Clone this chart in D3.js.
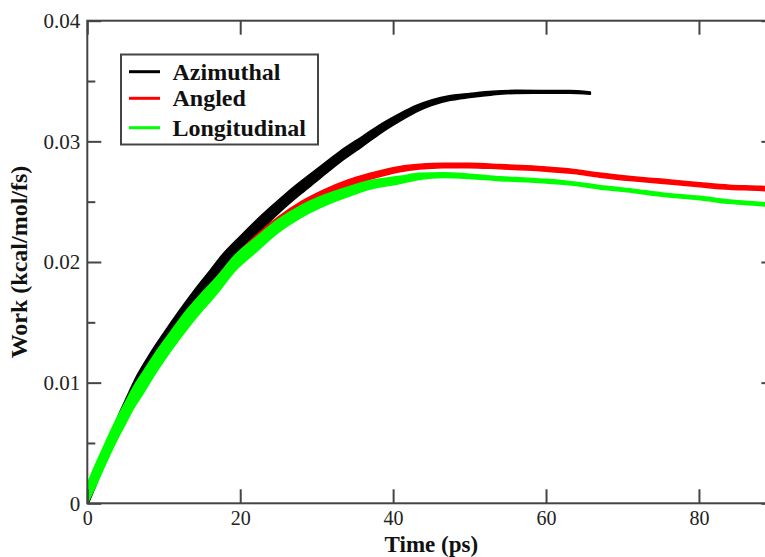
<!DOCTYPE html>
<html><head><meta charset="utf-8">
<script src="https://cdn.jsdelivr.net/npm/d3@7"></script>
<style>
body{margin:0;background:#fff;}
svg{display:block;}
</style></head>
<body>
<svg id="chart" width="765" height="557"></svg>
<script>
// ---- data ----
const seriesNames = ["Azimuthal", "Angled", "Longitudinal"];
const seriesColors = ["#000000", "#ff0000", "#00ff00"];

const azTime   = [0,1,2,3,4,5,6.5,8,10,12,14,16,17.6,20,22,24,26.1,28,30,33,36,38.5,40.9,43,45,47.5,50,53,56,60,63,65.8];
const azWork   = [0.0002,0.0018,0.0035,0.0051,0.0066,0.0080,0.0100,0.0116,0.0135,0.0153,0.0170,0.0186,0.0199,0.0215,0.0228,0.0240,0.0252,0.0262,0.0272,0.0287,0.0300,0.0311,0.0320,0.0327,0.0332,0.0336,0.0338,0.0340,0.0341,0.0341,0.0341,0.0340];
const azSpread = [0.0004,0.0005,0.0006,0.0006,0.0006,0.0006,0.0006,0.0006,0.00062,0.00064,0.00066,0.00066,0.00066,0.00064,0.0006,0.00057,0.00054,0.00052,0.0005,0.00046,0.00042,0.00037,0.00032,0.00027,0.00023,0.0002,0.00017,0.00015,0.00013,0.00012,0.00011,0.0001];

const anTime   = [0,1,2,3,4,5,6,7.3,9,11,13,15,17,19.3,22,25,28,31,34,37,40.9,43.5,46.5,50,54,57.5,60,63.6,67,71.4,75,80.1,84,88.2,90];
const anWork   = [0.0007,0.0021,0.0035,0.0050,0.0063,0.0075,0.0087,0.0100,0.0117,0.0136,0.0153,0.0169,0.0184,0.0201,0.0218,0.0234,0.0247,0.0257,0.0265,0.0271,0.0277,0.0279,0.0280,0.0280,0.0279,0.0278,0.0277,0.0275,0.0272,0.0269,0.0267,0.0264,0.0262,0.0261,0.0260];
const anSpread = [0.0006,0.0006,0.0006,0.0006,0.0006,0.0006,0.0006,0.0006,0.00055,0.0005,0.0005,0.00045,0.00042,0.0004,0.00038,0.00035,0.00032,0.0003,0.00028,0.00025,0.00022,0.0002,0.00019,0.00018,0.00018,0.00017,0.00017,0.00017,0.00017,0.00017,0.00017,0.00017,0.00017,0.00017,0.00017];

const loTime   = [0,1,2,3,4,5,6,7.3,9,11,13,15,17,19.3,22,25,28,31,34,37,40.9,43.5,46.5,50,54,57.5,60,63.6,67,71.4,75,80.1,84,88.2,90];
const loWork   = [0.0008,0.0022,0.0036,0.0050,0.0063,0.0075,0.0087,0.0100,0.0117,0.0135,0.0152,0.0167,0.0181,0.0199,0.0214,0.0230,0.0242,0.0251,0.0258,0.0264,0.0268,0.0271,0.0272,0.0271,0.0269,0.0268,0.0267,0.0265,0.0262,0.0259,0.0256,0.0253,0.0250,0.0248,0.0247];
const loSpread = [0.0008,0.0009,0.0009,0.0009,0.0009,0.0009,0.0009,0.0009,0.00085,0.0008,0.0008,0.00075,0.0007,0.00065,0.0006,0.00055,0.0005,0.00045,0.0004,0.00035,0.0003,0.00025,0.0002,0.00018,0.00016,0.00015,0.00015,0.00014,0.00014,0.00014,0.00014,0.00014,0.00014,0.00014,0.00014];

const xTicks = [0,20,40,60,80];
const yTicks = [0,0.01,0.02,0.03,0.04];
const yMinorTicks = [0.005,0.015,0.025,0.035];
const xTitle = "Time (ps)";
const yTitle = "Work (kcal/mol/fs)";

// ---- layout ----
const svg = d3.select("#chart");
const mL = 87.3, mR = 775.4, mT = 20.7, mB = 503.3;
const x = d3.scaleLinear().domain([0, 90]).range([mL, mR]);
const y = d3.scaleLinear().domain([0, 0.04]).range([mB, mT]);
const axisColor = "#444";
const font = "'Liberation Serif', 'Times New Roman', serif";

svg.append("defs").append("clipPath").attr("id","clip")
  .append("rect").attr("x",mL).attr("y",mT).attr("width",mR-mL).attr("height",mB-mT);

// ---- bands ----
const series = [
  {t: azTime, w: azWork, s: azSpread},
  {t: anTime, w: anWork, s: anSpread},
  {t: loTime, w: loWork, s: loSpread}
];
const area = d3.area()
  .x(d => x(d.t))
  .y0(d => y(d.w - d.s))
  .y1(d => y(d.w + d.s))
  .curve(d3.curveMonotoneX);
const plot = svg.append("g").attr("clip-path","url(#clip)");
series.forEach((sr, i) => {
  const pts = sr.t.map((t, k) => ({t, w: sr.w[k], s: sr.s[k]}));
  plot.append("path").datum(pts)
    .attr("d", area)
    .attr("fill", seriesColors[i])
    .attr("stroke", seriesColors[i])
    .attr("stroke-width", 1.5)
    .attr("stroke-linejoin","round");
});

// ---- axes ----
function styleAxis(g){
  g.attr("font-family", font).attr("font-size", 20);
  g.select(".domain").remove();
  g.selectAll(".tick line").attr("stroke", axisColor).attr("stroke-width", 2);
  g.selectAll(".tick text").attr("fill","#222");
}
svg.append("g").attr("transform",`translate(0,${mB})`)
  .call(d3.axisBottom(x).tickValues(xTicks).tickFormat(d3.format("d")).tickSizeInner(-14).tickSizeOuter(0).tickPadding(8))
  .call(styleAxis);
svg.append("g").attr("transform",`translate(0,${mT})`)
  .call(d3.axisTop(x).tickValues(xTicks).tickFormat("").tickSizeInner(-14).tickSizeOuter(0))
  .call(styleAxis);
svg.append("g").attr("transform",`translate(${mL},0)`)
  .call(d3.axisLeft(y).tickValues(yTicks).tickFormat(d => d === 0 ? "0" : d3.format(".2f")(d)).tickSizeInner(-14).tickSizeOuter(0).tickPadding(7))
  .call(styleAxis)
  .attr("font-size", 21);
svg.append("g").attr("transform",`translate(${mL},0)`)
  .call(d3.axisLeft(y).tickValues(yMinorTicks).tickFormat("").tickSizeInner(-8).tickSizeOuter(0))
  .call(styleAxis);
svg.append("g").attr("transform",`translate(${mR},0)`)
  .call(d3.axisRight(y).tickValues(yTicks).tickFormat("").tickSizeInner(-14).tickSizeOuter(0))
  .call(styleAxis);
svg.append("g").attr("transform",`translate(${mR},0)`)
  .call(d3.axisRight(y).tickValues(yMinorTicks).tickFormat("").tickSizeInner(-8).tickSizeOuter(0))
  .call(styleAxis);

// frame
svg.append("rect").attr("x",mL).attr("y",mT).attr("width",mR-mL).attr("height",mB-mT)
  .attr("fill","none").attr("stroke",axisColor).attr("stroke-width",2);

// titles
svg.append("text").attr("x",(mL+mR)/2).attr("y",552)
  .attr("text-anchor","middle").style("font-family",font).style("font-size","23px").style("font-weight","bold")
  .attr("fill","#111").text(xTitle);
svg.append("text").attr("transform",`translate(27,${(mT+mB)/2}) rotate(-90)`)
  .attr("text-anchor","middle").style("font-family",font).style("font-size","24px").style("font-weight","bold")
  .attr("fill","#111").text(yTitle);

// ---- legend ----
const lg = svg.append("g");
lg.append("rect").attr("x",121).attr("y",54.5).attr("width",197).attr("height",90)
  .attr("fill","#fff").attr("stroke",axisColor).attr("stroke-width",2);
const legY = [71.7, 98.3, 127.7];
seriesNames.forEach((n, i) => {
  lg.append("line").attr("x1",129).attr("x2",160).attr("y1",legY[i]).attr("y2",legY[i])
    .attr("stroke",seriesColors[i]).attr("stroke-width",3);
  lg.append("text").attr("x",172.5).attr("y",legY[i]).attr("dy","0.33em")
    .style("font-family",font).style("font-size","24px").style("font-weight","bold")
    .attr("fill","#111").text(n);
});
</script>
</body></html>
